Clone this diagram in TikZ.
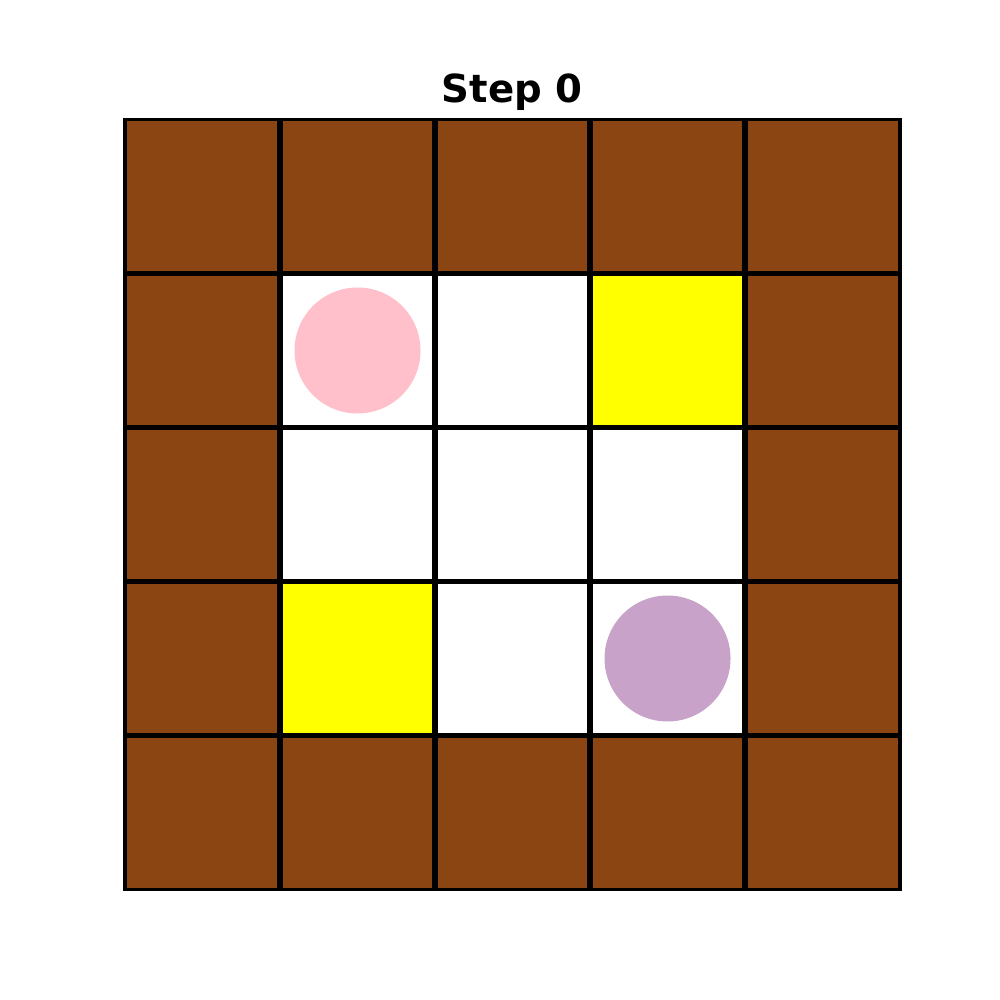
\documentclass[tikz,border=0pt]{standalone}
\usepackage{fontspec}
\setmainfont{DejaVu Sans}
\definecolor{wallbrown}{RGB}{139,69,19}
\definecolor{goalyellow}{RGB}{255,255,0}
\definecolor{agentpink}{RGB}{255,192,203}
\definecolor{agentlilac}{RGB}{200,162,200}
\tikzset{
  wall/.style={fill=wallbrown},
  goal/.style={fill=goalyellow},
  agent/.style={circle, inner sep=0pt, minimum size=1.26cm},
  gridline/.style={black, line width=0.055cm},
  frameline/.style={black, line width=0.035cm},
  ttl/.style={font=\fontsize{11}{13}\selectfont\bfseries},
}
\begin{document}
\begin{tikzpicture}
  \useasboundingbox (0,0) rectangle (10,-10);
  \node[ttl] (title) at (5.12,-0.92) {Step 0};
  \begin{scope}[shift={(1.25,-1.195)}, x=1.55cm, y=-1.54cm]
    % walls all round, free floor inside
    \fill[wall] (0,0) rectangle (5,5);
    \fill[white] (1,1) rectangle (4,4);
    % goals
    \fill[goal] (3,1) rectangle (4,2);
    \fill[goal] (1,3) rectangle (2,4);
    % grid
    \foreach \i in {1,...,4} {
      \draw[gridline] (\i,0) -- (\i,5);
      \draw[gridline] (0,\i) -- (5,\i);
    }
    \draw[frameline] (0,0) rectangle (5,5);
    % agents
    \node[agent, fill=agentpink] (agent1) at (1.5,1.5) {};
    \node[agent, fill=agentlilac] (agent2) at (3.5,3.5) {};
  \end{scope}
\end{tikzpicture}
\end{document}
